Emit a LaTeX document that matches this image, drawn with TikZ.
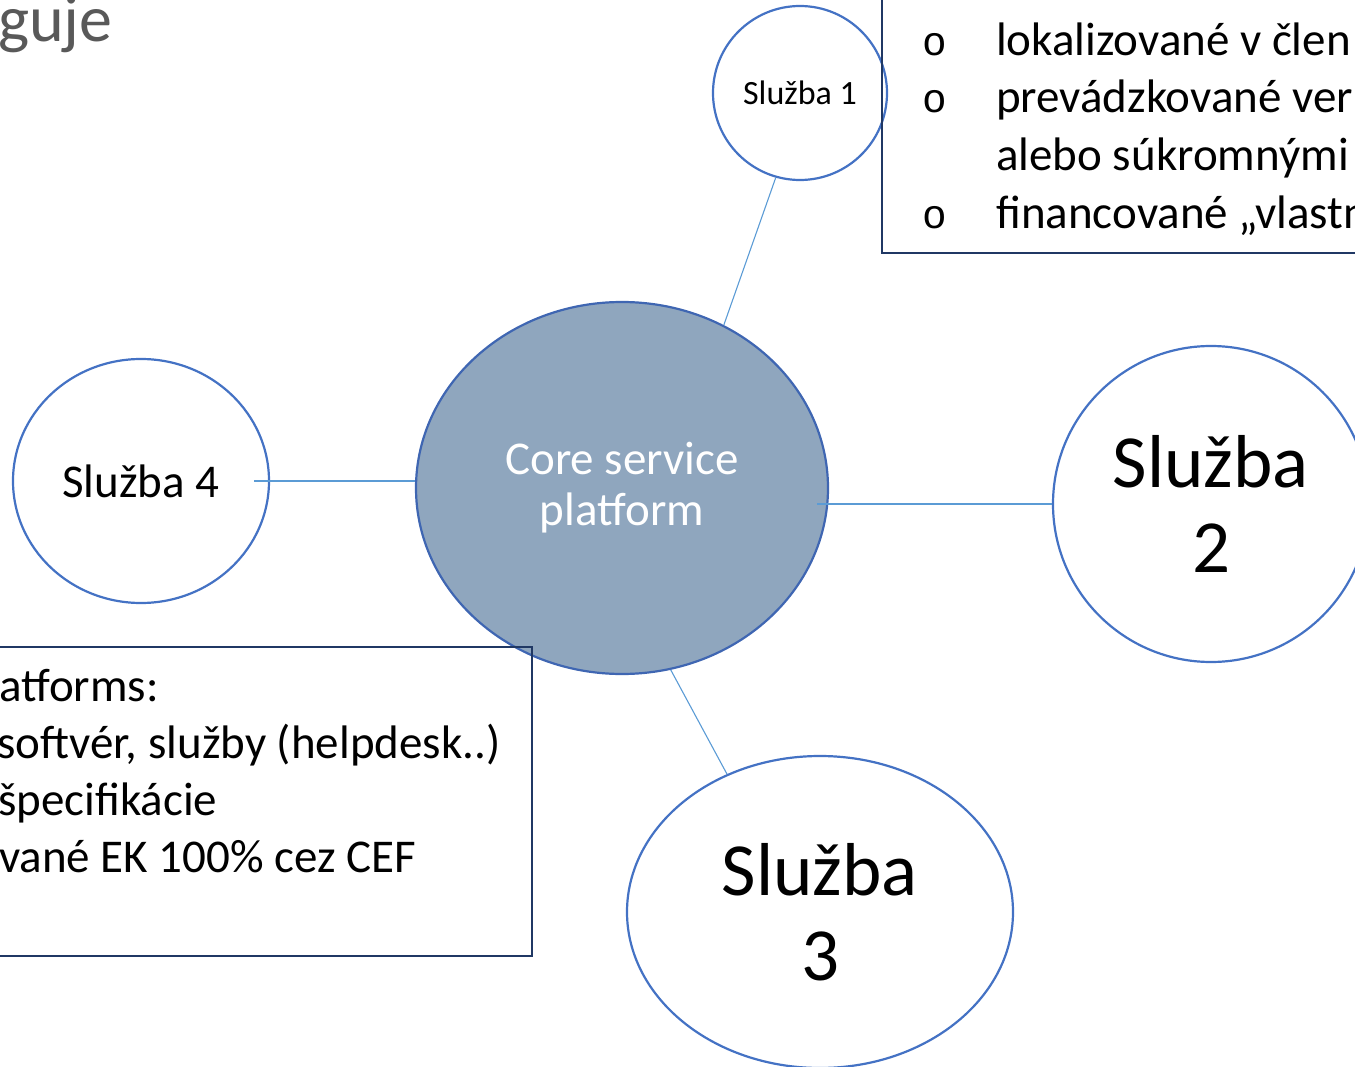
\documentclass[tikz,border=0pt]{standalone}
\usepackage{fontspec}
\setmainfont{Carlito}
\newfontfamily\bulletfont{Liberation Mono}
\usetikzlibrary{shapes.geometric}
\definecolor{ringblue}{HTML}{4472C4}
\definecolor{coreedge}{HTML}{3F66B2}
\definecolor{corefill}{HTML}{8FA6BE}
\definecolor{linkblue}{HTML}{5B9BD5}
\definecolor{boxnavy}{HTML}{203864}
\definecolor{titlegray}{HTML}{595959}
\tikzset{
  service/.style={ellipse, draw=ringblue, line width=2.2pt, fill=white, inner sep=0pt, align=center},
  link/.style={linkblue, line width=1.1pt},
  textbox/.style={draw=boxnavy, line width=1.6pt},
  boxline/.style={anchor=base west, inner sep=0pt, font=\fontsize{47}{57}\selectfont},
  bullet/.style={anchor=base west, inner sep=0pt, font=\bulletfont\fontsize{41}{57}\selectfont}
}
\begin{document}
\begin{tikzpicture}[x=1pt,y=-1pt]
	\useasboundingbox (0,0) rectangle (1355,1067);
%	title, cut at the top
	\node[anchor=base west, inner sep=0pt, text=titlegray, font=\fontsize{66}{70}\selectfont] (title) at (-2,42) {guje};
%	platform and services
	\node[service, draw=coreedge, fill=corefill, text=white, minimum width=412pt, minimum height=372pt, font=\fontsize{47}{51}\selectfont] (core) at (622,488) {Core service\\platform};
	\node[service, minimum width=174pt, minimum height=174pt, font=\fontsize{34}{40}\selectfont] (s1) at (800,93) {Služba 1};
	\node[service, minimum width=316pt, minimum height=316pt, font=\fontsize{75}{85}\selectfont] (s2) at (1211,504) {Služba\\2};
	\node[service, minimum width=386pt, minimum height=312pt, font=\fontsize{75}{85}\selectfont] (s3) at (820,912) {Služba\\3};
	\node[service, minimum width=256pt, minimum height=244pt, font=\fontsize{47}{57}\selectfont] (s4) at (141,481) {Služba 4};
%	connectors
	\draw[link] (core.58) -- (s1.254);
	\draw[link, shorten <=-16pt] (s4.east) -- (core.west |- s4.east);
	\draw[link, shorten <=-12pt] (core.east |- s2.west) -- (s2.west);
	\draw[link] (core.285) -- (s3.124);
%	text box, top right
	\draw[textbox] (882,-10) rectangle (1370,253);
	\node[bullet] (b1) at (922,56) {o};
	\node[boxline] (r1) at (996,56) {lokalizované v člen};
	\node[bullet] (b2) at (922,113) {o};
	\node[boxline] (r2) at (996,113) {prevádzkované ver};
	\node[boxline] (r3) at (996,171) {alebo súkromnými};
	\node[bullet] (b4) at (922,229) {o};
	\node[boxline] (r4) at (996,229) {financované „vlastn};
%	text box, bottom left
	\draw[textbox] (-10,647) rectangle (532,956);
	\node[boxline] (l1) at (-1,701) {atforms:};
	\node[boxline] (l2) at (-3,758) {softvér, služby (helpdesk..)};
	\node[boxline] (l3) at (-2,815) {špecifikácie};
	\node[boxline] (l4) at (-1,872) {vané EK 100\% cez CEF};
\end{tikzpicture}
\end{document}
